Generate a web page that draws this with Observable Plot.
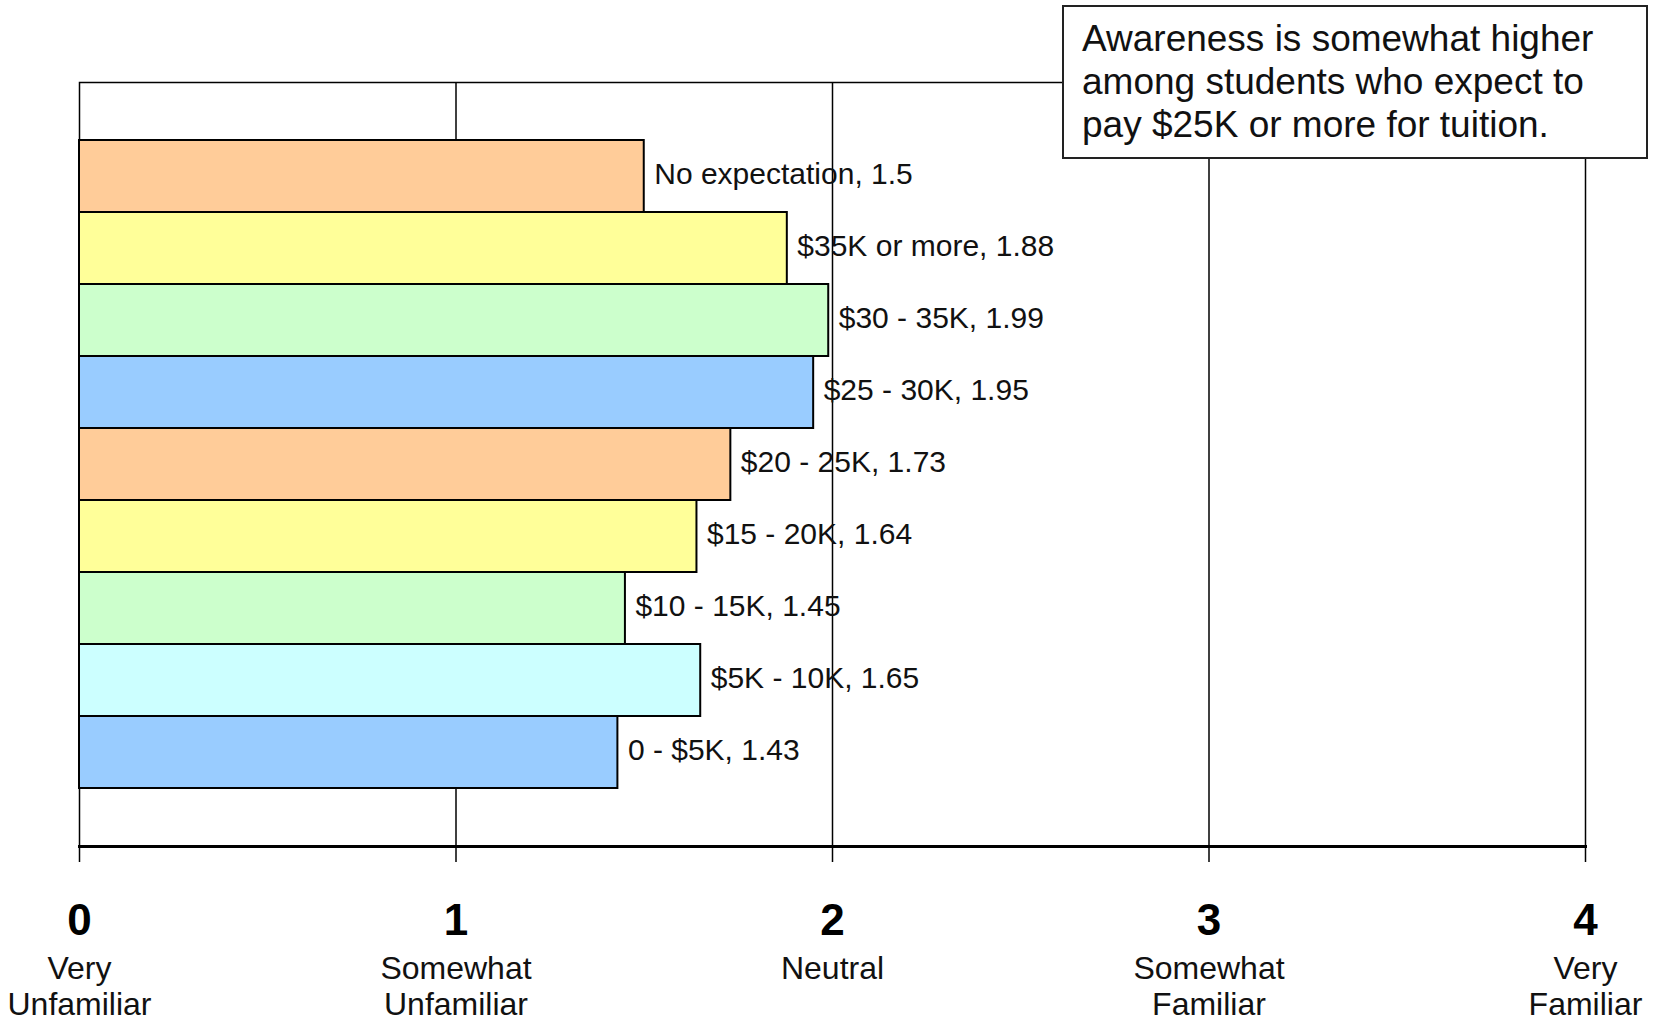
<!DOCTYPE html>
<html><head><meta charset="utf-8">
<script src="https://cdn.jsdelivr.net/npm/d3@7"></script>
<script src="https://cdn.jsdelivr.net/npm/@observablehq/plot@0.6"></script>
<style>
html,body{margin:0;padding:0;background:#fff;}
#wrap{position:relative;width:1654px;height:1022px;}
#note{position:absolute;left:1062px;top:5px;width:586px;height:154px;box-sizing:border-box;border:2px solid #222;background:#fff;
  font-family:"Liberation Sans",Arial,sans-serif;font-size:37px;line-height:43px;padding:10px 0 0 18px;color:#111;white-space:nowrap;}
</style>
</head><body>
<div id="wrap"><div id="note">Awareness is somewhat higher<br>among students who expect to<br>pay $25K or more for tuition.</div></div>
<script>
const categories = ["No expectation", "$35K or more", "$30 - 35K", "$25 - 30K", "$20 - 25K", "$15 - 20K", "$10 - 15K", "$5K - 10K", "0 - $5K"];
const values = [1.5, 1.88, 1.99, 1.95, 1.73, 1.64, 1.45, 1.65, 1.43];
const barColors = ["#FFCC99", "#FFFF99", "#CCFFCC", "#99CCFF", "#FFCC99", "#FFFF99", "#CCFFCC", "#CCFFFF", "#99CCFF"];
const tickValues = [0, 1, 2, 3, 4];
const tickLabels = ["Very\nUnfamiliar", "Somewhat\nUnfamiliar", "Neutral", "Somewhat\nFamiliar", "Very\nFamiliar"];

const data = categories.map((cat, i) => ({cat, value: values[i]}));
const ticks = tickValues.map((v, i) => ({v, label: tickLabels[i]}));

const chart = Plot.plot({
  width: 1654, height: 1022,
  marginLeft: 79, marginRight: 69, marginTop: 82, marginBottom: 176,
  style: {fontFamily: "'Liberation Sans', Arial, sans-serif", background: "transparent"},
  x: {domain: [0, 4]},
  y: {domain: categories, axis: null, paddingInner: 0, paddingOuter: 0.75},
  color: {domain: categories, range: barColors},
  marks: [
    Plot.ruleX(tickValues.slice(1, 4), {stroke: "#000", strokeWidth: 1.5}),
    Plot.frame({stroke: "#000", strokeWidth: 1.5}),
    Plot.barX(data, {x: "value", y: "cat", fill: "cat", stroke: "#000", strokeWidth: 2, inset: 0}),
    Plot.text(data, {x: "value", y: "cat", text: d => `${d.cat}, ${d.value}`, textAnchor: "start", dx: 10, dy: -2,
      fontSize: 30, fill: "#111"}),
    Plot.frame({anchor: "bottom", stroke: "#000", strokeWidth: 3}),
    Plot.axisX({ticks: tickValues, tickSize: 16, tickFormat: () => "", stroke: "#000", strokeWidth: 1.5}),
    Plot.text(ticks, {x: "v", frameAnchor: "bottom", text: d => String(d.v), dy: 57, lineAnchor: "top",
      fontWeight: "bold", fontSize: 44, fill: "#000"}),
    Plot.text(ticks, {x: "v", frameAnchor: "bottom", text: "label", dy: 106, lineAnchor: "top",
      fontSize: 32, lineHeight: 1.15, fill: "#111"})
  ]
});
document.getElementById("wrap").prepend(chart);
</script>
</body></html>
